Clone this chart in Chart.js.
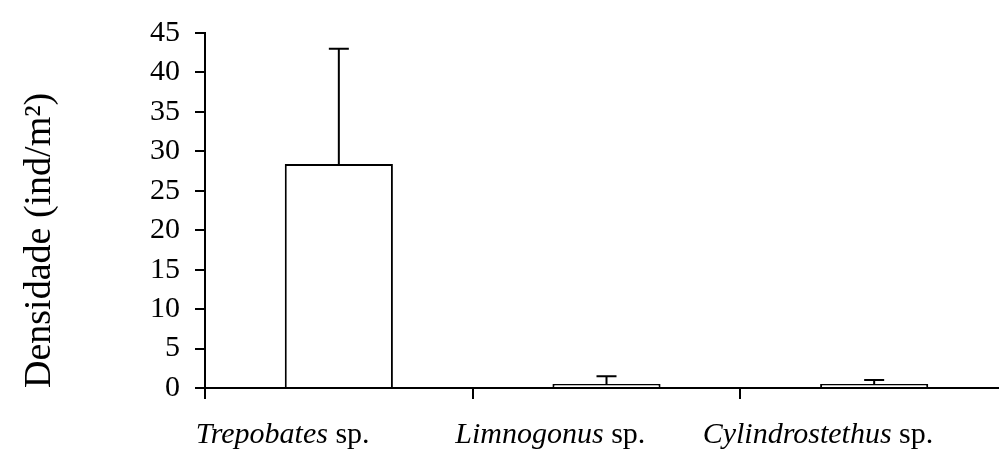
<!DOCTYPE html>
<html><head><meta charset="utf-8">
<script src="https://cdn.jsdelivr.net/npm/chart.js@4"></script>
<style>
html,body{margin:0;padding:0;overflow:hidden;background:#fff}
#wrap{width:1008px;height:450px;position:relative}
</style></head>
<body><div id="wrap"><canvas id="c"></canvas></div>
<script>
const genera = ['Trepobates', 'Limnogonus', 'Cylindrostethus'];
const suffix = ' sp.';
const categories = genera.map(g => g + suffix);
const densityMeans = [28.4, 0.5, 0.5];
const densitySD = [14.6, 1.0, 0.5];
const yMin = 0, yMax = 45, yStep = 5;
const yTitle = 'Densidade (ind/m\u00B2)';

const SERIF = '"Liberation Serif", "Times New Roman", serif';

const errorBars = {
  id: 'errorBars',
  afterDatasetsDraw(chart) {
    const ctx = chart.ctx, meta = chart.getDatasetMeta(0), y = chart.scales.y;
    ctx.save();
    ctx.strokeStyle = '#000';
    ctx.lineWidth = 2;
    meta.data.forEach((bar, i) => {
      const base = y.getPixelForValue(densityMeans[i]);
      const top = y.getPixelForValue(densityMeans[i] + densitySD[i]);
      ctx.beginPath();
      ctx.moveTo(bar.x, base); ctx.lineTo(bar.x, top);
      ctx.moveTo(bar.x - 10, top); ctx.lineTo(bar.x + 10, top);
      ctx.stroke();
    });
    ctx.restore();
  }
};

const categoryLabels = {
  id: 'categoryLabels',
  afterDraw(chart) {
    const ctx = chart.ctx, xs = chart.scales.x, area = chart.chartArea;
    const catW = (xs.right - xs.left) / categories.length;
    ctx.save();
    ctx.fillStyle = '#000';
    ctx.textBaseline = 'alphabetic';
    ctx.textAlign = 'left';
    genera.forEach((g, i) => {
      const cx = xs.getPixelForValue(i) - 0.21 * catW;
      ctx.font = 'italic 30px ' + SERIF;
      const wg = ctx.measureText(g).width;
      ctx.font = '30px ' + SERIF;
      const ws = ctx.measureText(suffix).width;
      const x0 = cx - (wg + ws) / 2;
      const yb = area.bottom + 55;
      ctx.font = 'italic 30px ' + SERIF;
      ctx.fillText(g, x0, yb);
      ctx.font = '30px ' + SERIF;
      ctx.fillText(suffix, x0 + wg, yb);
    });
    ctx.restore();
  }
};

new Chart(document.getElementById('c'), {
  type: 'bar',
  data: {
    labels: categories,
    datasets: [{
      data: densityMeans,
      backgroundColor: '#fff',
      borderColor: '#000',
      borderWidth: 2,
      borderSkipped: 'bottom',
      barPercentage: 0.404,
      categoryPercentage: 1
    }]
  },
  options: {
    responsive: true,
    maintainAspectRatio: false,
    animation: false,
    layout: { padding: { top: 29, left: 0, right: 0, bottom: 0 } },
    plugins: { legend: { display: false }, tooltip: { enabled: false } },
    scales: {
      x: {
        border: { color: '#000', width: 2 },
        grid: { offset: true, drawOnChartArea: false, drawTicks: true, tickLength: 11, color: '#000', lineWidth: 2 },
        ticks: { display: false },
        afterFit: s => { s.height = 62; }
      },
      y: {
        min: yMin, max: yMax,
        border: { color: '#000', width: 2 },
        grid: { drawOnChartArea: false, drawTicks: true, tickLength: 10, color: '#000', lineWidth: 2 },
        ticks: { stepSize: yStep, color: '#000', padding: 15, font: { family: SERIF, size: 30 } },
        title: { display: true, text: yTitle, align: 'start', color: '#000', font: { family: SERIF, size: 38 }, padding: { top: 17, bottom: 0 } },
        afterFit: s => { s.width = 205; }
      }
    }
  },
  plugins: [errorBars, categoryLabels]
});
</script>
</body></html>
